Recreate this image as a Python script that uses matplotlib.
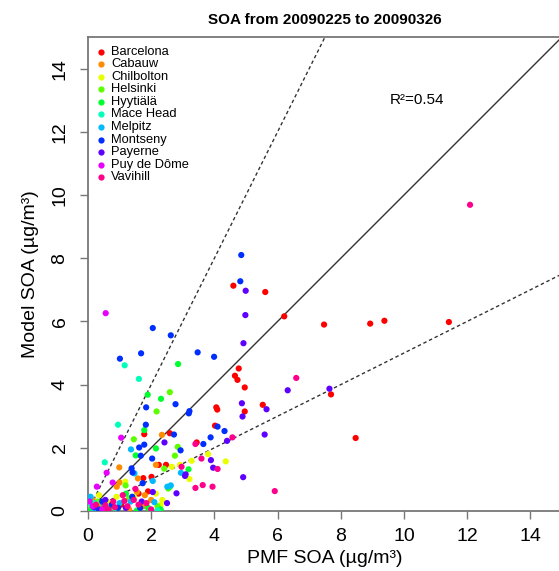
"""
Scatter of modelled vs PMF-derived SOA per site, 2009-02-25 to 2009-03-26.
"""
import matplotlib
matplotlib.use("Agg")
import matplotlib.pyplot as plt
import numpy as np

plt.rcParams['font.family'] = ['Liberation Sans', 'DejaVu Sans']

# station names and colours (R rainbow(11))
stations = ['Barcelona', 'Cabauw', 'Chilbolton', 'Helsinki', 'Hyytiälä', 'Mace Head',
            'Melpitz', 'Montseny', 'Payerne', 'Puy de Dôme', 'Vavihill']
colors = ['#FF0000', '#FF8B00', '#E8FF00', '#5DFF00', '#00FF2E', '#00FFB9',
          '#00B9FF', '#002EFF', '#5D00FF', '#E800FF', '#FF008B']

# (PMF SOA, Model SOA) pairs per station
barcelona = [(4.6, 7.13), (5.61, 6.93), (6.21, 6.16), (4.77, 4.51), (4.65, 4.28), (4.73, 4.15),
             (4.96, 3.91), (4.06, 3.28), (4.09, 3.21), (5.53, 3.36), (4.96, 3.15), (1.78, 2.43),
             (2.59, 2.46), (4.02, 2.7), (3.44, 2.17), (2.24, 1.46), (2.47, 1.46), (1.75, 1.04),
             (2.01, 1.08), (7.47, 5.9), (8.93, 5.93), (9.38, 6.02), (11.42, 5.98), (7.69, 3.69),
             (8.47, 2.31), (1.6, 0.55), (0.3, 0.1), (1.05, 0.2), (1.9, 0.62), (0.6, 0.05)]
cabauw = [(2.34, 2.41), (0.99, 1.38), (2.15, 1.46), (1.58, 1.03), (0.91, 0.77), (1.0, 0.9),
          (1.8, 0.5), (0.4, 0.15), (1.3, 0.05), (2.0, 0.35), (1.55, 0.6), (0.15, 0.35),
          (1.75, 0.15)]
chilbolton = [(3.8, 1.8), (4.36, 1.57), (2.65, 1.4), (2.91, 1.46), (3.21, 1.01), (1.18, 0.93),
              (3.28, 1.59), (2.3, 0.2), (1.45, 0.45), (0.6, 0.3), (2.15, 0.55), (0.9, 0.45),
              (0.35, 0.5), (2.35, 0.35)]
helsinki = [(2.59, 3.76), (2.17, 3.15), (1.45, 2.27), (2.84, 2.03), (2.75, 1.75), (2.41, 1.34),
            (1.19, 0.81), (2.54, 0.71), (0.3, 0.3), (1.3, 0.4), (2.2, 0.15), (0.05, 0.1)]
hyytiala = [(2.85, 4.65), (1.89, 3.68), (2.31, 3.55), (1.78, 2.56), (2.15, 1.98), (1.51, 1.76),
            (3.18, 1.32), (2.59, 0.77), (1.2, 0.55), (0.1, 0.05), (0.7, 0.1), (1.9, 0.1),
            (2.3, 0.05), (0.4, 0.02), (1.55, 0.02)]
mace_head = [(1.16, 4.61), (1.61, 4.18), (0.95, 2.73), (0.53, 1.54), (0.05, 0.4), (0.2, 0.25),
             (2.2, 0.02), (0.1, 0.2), (0.9, 0.02)]
melpitz = [(1.36, 1.95), (1.47, 1.19), (2.94, 1.21), (2.05, 0.95), (2.62, 0.81), (2.51, 0.77),
           (0.08, 0.45), (1.0, 0.25), (0.5, 0.2), (0.2, 0.05), (1.35, 0.3), (2.1, 0.28)]
montseny = [(4.85, 8.1), (4.82, 7.27), (2.05, 5.79), (2.62, 5.56), (1.01, 4.82), (1.68, 4.99),
            (3.47, 5.02), (3.99, 4.88), (1.84, 3.28), (2.77, 3.38), (3.21, 3.16), (3.19, 3.09),
            (1.83, 2.73), (2.72, 2.42), (4.32, 2.53), (3.88, 2.33), (3.65, 2.12), (1.62, 2.01),
            (1.78, 2.1), (2.93, 1.92), (1.67, 1.75), (2.03, 1.66), (1.38, 1.35), (1.41, 1.22),
            (1.73, 0.88), (4.1, 2.67), (1.4, 0.45), (0.75, 0.2), (0.35, 0.05), (0.95, 0.1),
            (0.45, 0.3), (1.65, 0.1)]
payerne = [(4.99, 6.97), (4.98, 6.2), (4.92, 5.31), (6.32, 3.82), (4.87, 3.41), (5.65, 3.22),
           (4.89, 2.99), (2.42, 2.17), (4.4, 2.22), (5.59, 2.42), (3.89, 1.61), (3.96, 1.37),
           (3.07, 1.11), (3.09, 1.16), (4.91, 1.07), (2.8, 0.56), (7.64, 3.87), (2.5, 0.25),
           (1.2, 0.1), (0.55, 0.35), (1.7, 0.3), (0.2, 0.12), (2.05, 0.6)]
puy_de_dome = [(0.56, 6.26), (1.05, 2.32), (0.59, 1.21), (0.78, 0.9), (0.28, 0.77), (0.15, 0.15),
               (0.45, 0.05), (0.05, 0.3)]
vavihill = [(12.09, 9.69), (6.59, 4.21), (4.57, 2.33), (3.4, 2.12), (3.59, 1.66), (4.1, 1.33),
            (3.4, 0.73), (3.63, 0.82), (3.94, 0.77), (5.91, 0.63), (2.96, 1.4), (1.45, 0.35),
            (1.25, 0.15), (0.8, 0.3), (1.85, 0.25), (1.6, 0.2), (0.65, 0.05), (1.1, 0.5),
            (2.0, 0.05), (0.25, 0.2), (1.5, 0.7), (0.85, 0.12), (1.15, 0.32), (0.55, 0.18)]

all_data = [barcelona, cabauw, chilbolton, helsinki, hyytiala, mace_head,
            melpitz, montseny, payerne, puy_de_dome, vavihill]
r2 = 0.54

fig = plt.figure(figsize=(5.59, 5.71), dpi=100)
ax = fig.add_axes([88 / 559, 60 / 571, 474 / 559, 474 / 571])

for pts, col in zip(all_data, colors):
    arr = np.array(pts)
    ax.scatter(arr[:, 0], arr[:, 1], s=20, color=col, edgecolors='none', zorder=3)

# 1:1, 2:1 and 1:2 lines
xx = np.array([0, 15])
ax.plot(xx, xx, color='#333333', lw=1.0, zorder=2)
ax.plot(xx, 2 * xx, color='#333333', lw=1.0, ls=(0, (2.5, 2)), zorder=2)
ax.plot(xx, 0.5 * xx, color='#333333', lw=1.0, ls=(0, (2.5, 2)), zorder=2)

ax.set_xlim(0, 15)
ax.set_ylim(0, 15)
ax.set_xticks(np.arange(0, 15, 2))
ax.set_yticks(np.arange(0, 15, 2))
for s in ax.spines.values():
    s.set_color('#777777')
    s.set_linewidth(1.3)
ax.tick_params(axis='both', direction='out', length=6, width=1.0, color='#777777',
               labelsize=14)
ax.tick_params(axis='x', pad=6)
ax.tick_params(axis='y', pad=8)
for lab in ax.get_yticklabels():
    lab.set_rotation(90)
    lab.set_va('center')

ax.set_xlabel('PMF SOA (µg/m³)', fontsize=14, labelpad=4)
ax.set_ylabel('Model SOA (µg/m³)', fontsize=14, labelpad=9)
ax.set_title('SOA from 20090225 to 20090326', fontsize=11, fontweight='bold', pad=9)

ax.text(9.55, 13.0, f'R²={r2:.2f}', fontsize=11, va='center', ha='left')

# manual legend, packed like the R original
for i, (name, col) in enumerate(zip(stations, colors)):
    yy = 0.969 - i * 0.0265
    ax.plot([0.0274], [yy], 'o', ms=4.5, color=col, mec='none', transform=ax.transAxes, zorder=4)
    ax.text(0.0485, yy, name, fontsize=9.3, va='center', ha='left', transform=ax.transAxes)

plt.savefig('out.png', dpi=100)
